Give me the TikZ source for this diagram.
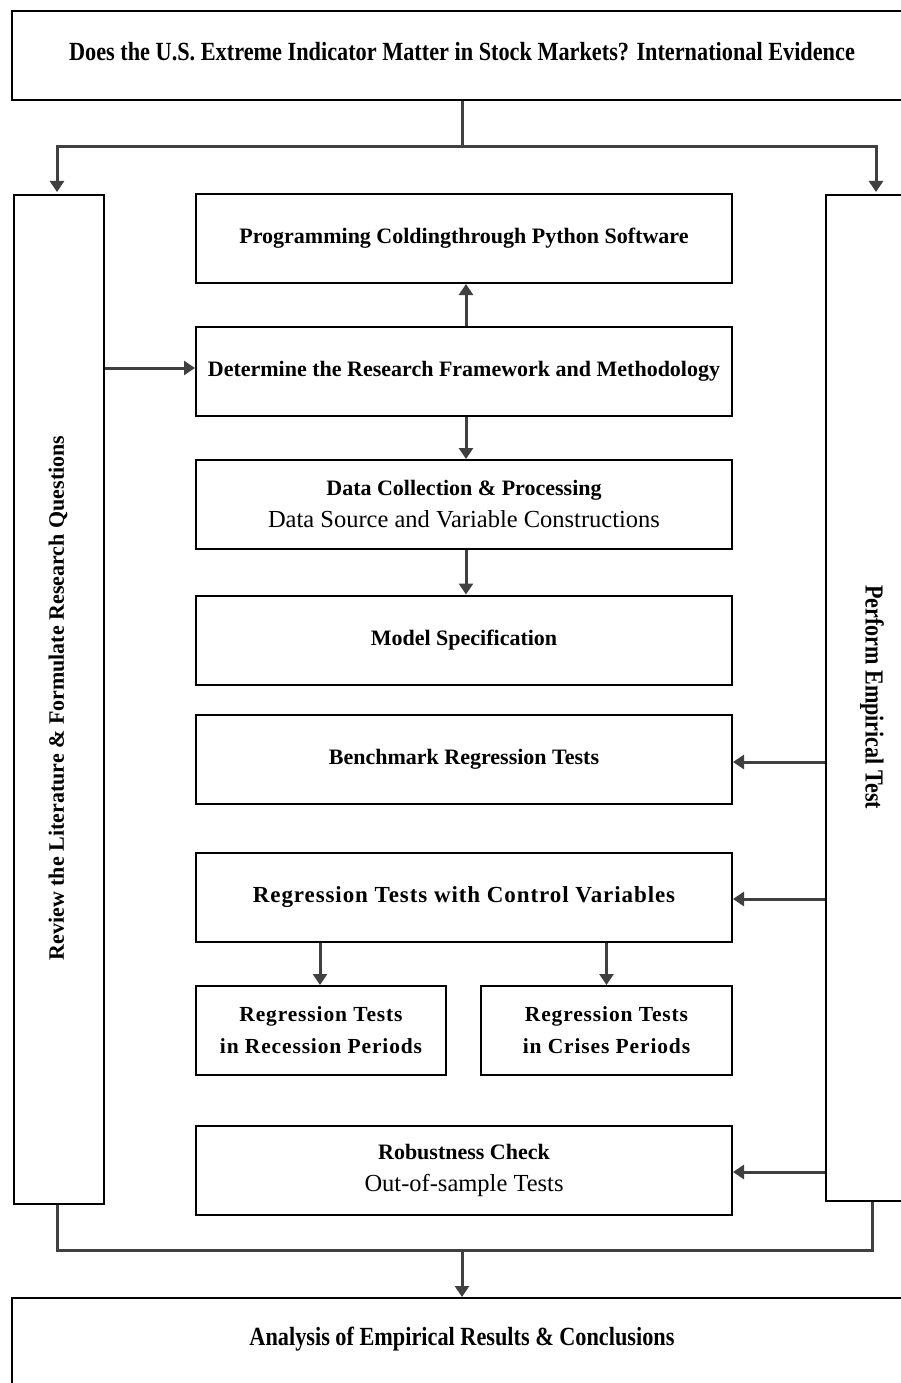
\documentclass[tikz,border=0pt]{standalone}
\usepackage{fontspec}
\setmainfont{Liberation Serif}
\newfontfamily\condfont[FakeStretch=0.85]{Liberation Serif}
\newfontfamily\spacedfont[LetterSpace=4]{Liberation Serif}
\usetikzlibrary{arrows.meta}
\definecolor{conn}{HTML}{404040}
\newcommand{\plainline}[1]{{\mdseries\fontsize{24.5}{32}\selectfont #1}}
\tikzset{
  box/.style={draw=black, line width=2pt, minimum width=536pt, minimum height=89pt, inner sep=0pt, align=center, font=\fontsize{22}{32}\selectfont},
  sidebox/.style={draw=black, line width=2pt, inner sep=0pt},
  conn/.style={draw=conn, line width=3pt},
  arr/.style={conn, -{Triangle[width=14pt,length=11pt]}},
}
\begin{document}
\begin{tikzpicture}[x=1pt,y=-1pt]
\useasboundingbox (0,0) rectangle (901,1383);
\clip (0,0) rectangle (901,1383);
% top and bottom boxes
\node[sidebox, minimum width=900pt, minimum height=89pt, anchor=north west] (top) at (11,10) {};
\node[font=\condfont\bfseries\fontsize{26.2}{30}\selectfont] (toptext) at (462,52) {Does the U.S. Extreme Indicator Matter in Stock Markets? International Evidence};
\node[sidebox, minimum width=900pt, minimum height=120pt, anchor=north west] (bot) at (11,1297) {};
\node[font=\condfont\bfseries\fontsize{26.2}{30}\selectfont] (bottext) at (462,1339) {Analysis of Empirical Results \& Conclusions};
% side boxes
\node[sidebox, minimum width=90pt, minimum height=1009pt, anchor=north west] (left) at (13,194) {};
\node[rotate=90, font=\bfseries\fontsize{22}{26}\selectfont] (lefttext) at (58,698) {Review the Literature \& Formulate Research Questions};
\node[sidebox, minimum width=120pt, minimum height=1006pt, anchor=north west] (right) at (825,194) {};
\node[rotate=-90, font=\condfont\bfseries\fontsize{26}{26}\selectfont] (righttext) at (872,697) {Perform Empirical Test};
% central boxes
\node[box] (prog) at (464,238.5) {\bfseries Programming Coldingthrough Python Software};
\node[box] (det) at (464,371.5) {\bfseries Determine the Research Framework and Methodology};
\node[box] (data) at (464,504.5) {\bfseries Data Collection \& Processing\\\plainline{Data Source and Variable Constructions}};
\node[box] (model) at (464,640) {\bfseries Model Specification};
\node[box] (bench) at (464,759.5) {\bfseries Benchmark Regression Tests};
\node[box, font=\spacedfont\bfseries\fontsize{23}{32}\selectfont] (ctrl) at (464,897.5) {Regression Tests with Control Variables};
\node[box, minimum width=250pt, font=\spacedfont\bfseries\fontsize{21.5}{32}\selectfont] (rec) at (321,1030.5) {Regression Tests\\in Recession Periods};
\node[box, minimum width=251pt, font=\spacedfont\bfseries\fontsize{21.5}{32}\selectfont] (cri) at (606.5,1030.5) {Regression Tests\\in Crises Periods};
\node[box] (rob) at (464,1170.5) {\bfseries Robustness Check\\\plainline{Out-of-sample Tests}};
% top connectors
\coordinate (splitT) at (462,147);
\draw[conn] (top.south -| splitT) -- (splitT);
\draw[arr] (splitT) -- (57,147) -- (57,192);
\draw[arr] (splitT) -- (876,147) -- (876,192);
% center flow
\draw[arr] (det.north -| 466,0) -- (prog.south -| 466,0);
\draw[arr] (det.south -| 466,0) -- (data.north -| 466,0);
\draw[arr] (data.south -| 466,0) -- (model.north -| 466,0);
\draw[arr] (left.east |- 0,368) -- (det.west |- 0,368);
\draw[arr] (right.west |- 0,762) -- (bench.east |- 0,762);
\draw[arr] (right.west |- 0,899) -- (ctrl.east |- 0,899);
\draw[arr] (right.west |- 0,1172) -- (rob.east |- 0,1172);
\draw[arr] (ctrl.south -| 320,0) -- (rec.north -| 320,0);
\draw[arr] (ctrl.south -| cri) -- (cri.north);
% bottom connectors
\coordinate (joinL) at (57,1250);
\coordinate (joinR) at (872,1250);
\coordinate (joinM) at (462,1250);
\draw[conn] (left.south -| joinL) -- (joinL) -- (joinR) -- (right.south -| joinR);
\draw[arr] (joinM) -- (bot.north -| joinM);
\end{tikzpicture}
\end{document}
